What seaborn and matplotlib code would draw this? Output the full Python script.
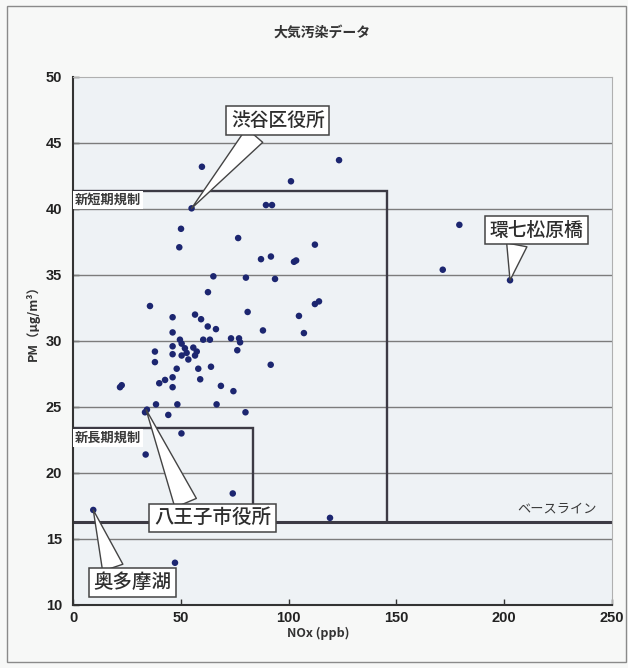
import matplotlib
matplotlib.use('Agg')
import matplotlib.pyplot as plt
import seaborn as sns
import pandas as pd
from matplotlib.patches import Rectangle

# ---- data ----
nox = [59.8, 123.4, 101.1, 89.5, 92.3, 55.0, 50.1, 76.6, 112.2, 49.3,
       87.2, 91.8, 102.5, 103.5, 65.1, 80.2, 93.7, 62.6, 112.2, 114.1,
       35.7, 81.0, 104.8, 46.2, 56.6, 59.4, 62.5, 66.3, 88.1, 107.1,
       46.2, 73.3, 77.0, 77.5, 76.2, 49.6, 50.4, 60.4, 63.5, 38.0,
       46.2, 46.2, 51.9, 52.7, 55.8, 57.4, 56.6, 50.4, 53.5, 38.0,
       48.1, 58.1, 64.0, 91.7, 59.0, 46.2, 42.7, 40.0, 46.2, 21.8,
       22.6, 68.6, 74.4, 38.5, 48.4, 66.6, 80.0, 34.3, 33.4, 44.2,
       50.3, 33.7, 74.1, 9.4, 47.3, 119.2, 179.2, 171.5, 202.7]
pm = [43.2, 43.7, 42.1, 40.3, 40.3, 40.05, 38.5, 37.8, 37.3, 37.1,
      36.2, 36.4, 36.0, 36.1, 34.9, 34.8, 34.7, 33.7, 32.8, 33.0,
      32.65, 32.2, 31.9, 31.8, 32.0, 31.65, 31.1, 30.9, 30.8, 30.6,
      30.65, 30.2, 30.2, 29.9, 29.3, 30.1, 29.8, 30.1, 30.1, 29.2,
      29.6, 29.0, 29.45, 29.1, 29.5, 29.2, 28.9, 28.9, 28.6, 28.4,
      27.9, 27.9, 28.05, 28.2, 27.1, 27.25, 27.05, 26.8, 26.5, 26.5,
      26.65, 26.6, 26.2, 25.2, 25.2, 25.2, 24.6, 24.8, 24.6, 24.4,
      23.0, 21.4, 18.45, 17.2, 13.2, 16.6, 38.8, 35.4, 34.6]

baseline = 16.3
short_term_pm, short_term_nox = 41.4, 145.5
long_term_pm, long_term_nox = 23.4, 83.3

x_ticks = [0, 50, 100, 150, 200, 250]
y_ticks = [10, 15, 20, 25, 30, 35, 40, 45, 50]
grid_levels = [15, 20, 25, 30, 35, 40, 45]

callout_names = ['渋谷区役所', '環七松原橋', '八王子市役所', '奥多摩湖']
callout_points = [(55.0, 40.05), (202.7, 34.6), (33.9, 24.8), (9.4, 17.2)]
callout_text_pos = [(95.0, 46.7), (215.0, 38.4), (64.7, 16.6), (27.6, 11.7)]

df = pd.DataFrame({'NOx': nox, 'PM': pm})

sns.set_theme(style='white')
plt.rcParams['font.family'] = ['Noto Sans CJK JP', 'DejaVu Sans']

fig = plt.figure(figsize=(6.28, 6.68), dpi=100, facecolor='#f7f8f7')
ax = fig.add_axes([73/628, 1-605/668, (612-73)/628, (605-77)/668])
ax.set_facecolor('#eef2f5')

ax.set_xlim(0, 250)
ax.set_ylim(10, 50)

for g in grid_levels:
    ax.axhline(g, color='#7c7c7c', lw=1.0, zorder=1)

box_col = '#3c3a44'
ax.plot([0, short_term_nox, short_term_nox], [short_term_pm, short_term_pm, baseline],
        color=box_col, lw=1.7, zorder=2, solid_joinstyle='miter')
ax.plot([0, long_term_nox, long_term_nox], [long_term_pm, long_term_pm, baseline],
        color=box_col, lw=1.7, zorder=2, solid_joinstyle='miter')
ax.axhline(baseline, color=box_col, lw=2.2, zorder=2)

sns.scatterplot(data=df, x='NOx', y='PM', ax=ax, color='#1c2670', s=22,
                edgecolor='none', zorder=5, legend=False)

lab_kw = dict(fontsize=9.5, fontweight='bold', color='#3a3a3a', va='center', ha='left',
              zorder=4, bbox=dict(boxstyle='square,pad=0.15', fc='white', ec='none'))
ax.text(0.8, short_term_pm - 0.72, '新短期規制', **lab_kw)
ax.text(0.8, long_term_pm - 0.72, '新長期規制', **lab_kw)
ax.text(243, baseline + 1.0, 'ベースライン', fontsize=9.5, color='#3a3a3a',
        ha='right', va='center', zorder=4)

relposes = [(0.30, 0.0), (0.30, 0.0), (0.29, 1.0), (0.27, 1.0)]
widths = [1.15, 1.1, 1.2, 1.1]
sizes = [13.5, 13.5, 14, 14]
for name, pt, tp, rp, w, fs in zip(callout_names, callout_points, callout_text_pos,
                                   relposes, widths, sizes):
    ax.annotate(name, xy=pt, xytext=tp, textcoords='data', ha='center', va='center',
                fontsize=fs, color='#2e2e2e', fontweight='medium', zorder=6,
                bbox=dict(boxstyle='square,pad=0.25', fc='white', ec='#444444', lw=1.1),
                arrowprops=dict(arrowstyle=f'wedge,tail_width={w}', fc='white',
                                ec='#444444', lw=1.0, relpos=rp, shrinkA=0, shrinkB=0))

ax.set_xticks(x_ticks)
ax.set_yticks(y_ticks)
ax.tick_params(axis='both', direction='in', length=4, width=1, colors='#333333',
               labelsize=10.5, bottom=True, left=True)
ax.tick_params(axis='y', pad=8)
ax.tick_params(axis='x', pad=4)
for lab in ax.get_xticklabels() + ax.get_yticklabels():
    lab.set_fontfamily(['Liberation Sans Narrow', 'Liberation Sans', 'DejaVu Sans'])
    lab.set_fontweight('bold')
    lab.set_color('#222222')

for s in ['left', 'bottom']:
    ax.spines[s].set_color('#333333')
    ax.spines[s].set_linewidth(1.5)
for s in ['top', 'right']:
    ax.spines[s].set_color('#b0b0b0')
    ax.spines[s].set_linewidth(0.8)

ax.set_xlabel('')
ax.set_ylabel('')
fig.text(318/628, 1-633/668, 'NOx (ppb)', ha='center', va='center', fontsize=9,
         fontweight='bold', color='#333333')
fig.text(33/628, 1-320/668, 'PM（μg/m³）', ha='center', va='center', fontsize=9,
         fontweight='bold', color='#333333', rotation=90)
fig.text(322/628, 1-33/668, '大気汚染データ', ha='center', va='center', fontsize=10,
         fontweight='bold', color='#333333')

fig.patches.append(Rectangle((7/628, 6/668), (619)/628, (656)/668, transform=fig.transFigure,
                             fill=False, ec='#8a8a8a', lw=1.0))

fig.savefig('out.png', dpi=100, facecolor=fig.get_facecolor())
